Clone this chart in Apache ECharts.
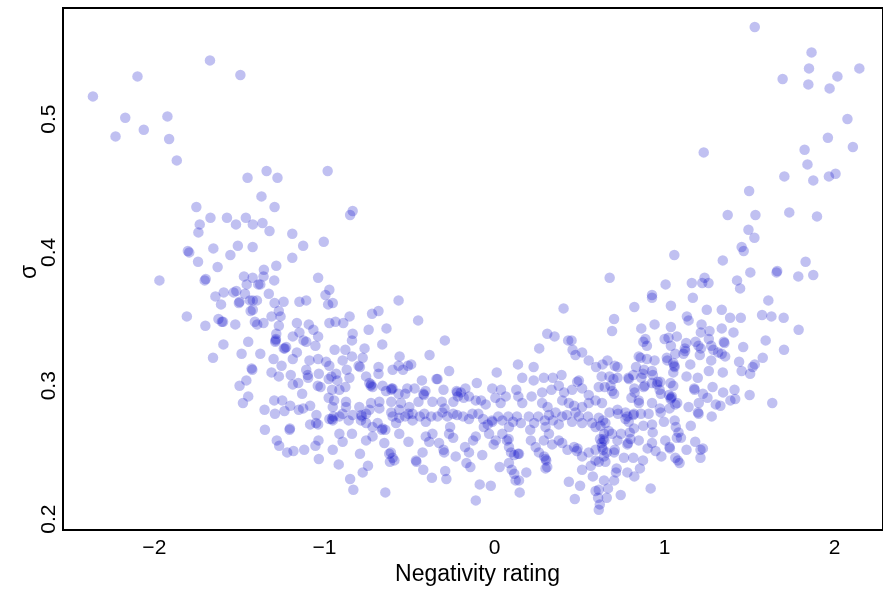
<!DOCTYPE html>
<html>
<head>
<meta charset="utf-8">
<script src="https://cdn.jsdelivr.net/npm/echarts@6/dist/echarts.min.js"></script>
<style>
  html, body { margin: 0; padding: 0; background: #fff; }
  #chart { width: 883px; height: 596px; }
</style>
</head>
<body>
<div id="chart"></div>
<script>
// Tick positions and labels
const xTicks = [-2, -1, 0, 1, 2];
const yTicks = [0.2, 0.3, 0.4, 0.5];
const xTitle = 'Negativity rating';
const yTitle = 'σ';

// [negativity rating, sigma] per item, grouped by region of the scatter
const upperLeft = [
  [-1.673,0.544],[-2.099,0.532],[-1.494,0.533],[-2.361,0.517],[-2.171,0.501],[-1.923,0.502],
  [-2.062,0.492],[-2.228,0.487],[-1.913,0.485],[-1.868,0.469],[-0.981,0.461],[-1.340,0.461],
  [-1.452,0.456],[-1.276,0.456],[-1.370,0.442],[-1.293,0.434],[-1.753,0.434],[-1.670,0.426],
  [-1.573,0.426],[-1.462,0.426],[-1.733,0.421],[-1.520,0.421],[-1.421,0.421],[-1.364,0.422],
  [-1.741,0.415],[-1.323,0.416],[-1.189,0.414],[-1.004,0.408],[-1.125,0.405],[-1.803,0.401],
  [-1.795,0.400],[-1.653,0.403],[-1.509,0.405],[-1.422,0.404],[-1.553,0.398],[-1.189,0.396],
  [-1.743,0.393],[-1.628,0.389],[-1.356,0.387],[-1.283,0.390],[-0.834,0.431],[-0.849,0.428]
];

const upperRight = [
  [1.530,0.569],[1.864,0.550],[1.849,0.538],[2.145,0.538],[1.694,0.530],[2.016,0.532],
  [1.845,0.526],[1.970,0.523],[2.075,0.500],[1.960,0.486],[2.107,0.479],[1.823,0.477],
  [1.230,0.475],[1.840,0.466],[1.704,0.457],[1.874,0.454],[1.966,0.457],[2.005,0.459],
  [1.497,0.446],[1.371,0.428],[1.534,0.428],[1.733,0.430],[1.896,0.427],[1.493,0.417],
  [1.528,0.411],[1.453,0.404],[1.465,0.401],[1.057,0.398],[1.342,0.394],[1.829,0.393],
  [1.658,0.385],[1.662,0.386],[1.504,0.385]
];

const leftBand = [
  [-1.970,0.379],[-1.704,0.379],[-1.698,0.380],[-1.473,0.382],[-1.422,0.381],[-1.358,0.382],
  [-1.295,0.379],[-1.457,0.376],[-1.389,0.376],[-1.377,0.376],[-1.037,0.381],[-1.592,0.370],
  [-1.534,0.370],[-1.518,0.371],[-1.467,0.369],[-1.641,0.367],[-1.608,0.361],[-1.327,0.369],
  [-1.503,0.362],[-1.499,0.363],[-1.438,0.364],[-1.421,0.364],[-1.397,0.364],[-1.434,0.356],
  [-1.421,0.357],[-1.293,0.362],[-1.240,0.363],[-1.147,0.363],[-1.107,0.364],[-0.994,0.368],
  [-0.978,0.361],[-1.311,0.352],[-1.268,0.356],[-1.258,0.352],[-1.809,0.352],[-1.700,0.345],
  [-1.623,0.350],[-1.596,0.348],[-1.603,0.348],[-1.524,0.346],[-1.409,0.348],[-1.395,0.346],
  [-1.358,0.347],[-1.268,0.345],[-1.162,0.347],[-1.092,0.346],[-1.065,0.342],[-1.283,0.339],
  [-1.287,0.334],[-1.285,0.335],[-1.289,0.333],[-1.239,0.328],[-1.232,0.328],[-1.225,0.329],
  [-1.186,0.337],[-1.147,0.340],[-1.123,0.334],[-1.107,0.333],[-1.037,0.337],[-1.053,0.330],
  [-1.448,0.333],[-1.594,0.331],[-1.655,0.321],[-1.487,0.324],[-1.377,0.324],[-1.299,0.320],
  [-1.186,0.320],[-1.162,0.325],[-1.088,0.319],[-1.037,0.320],[-0.990,0.318],[-1.424,0.312],
  [-1.428,0.313],[-1.499,0.300],[-1.459,0.304],[-1.311,0.310],[-1.268,0.307],[-1.252,0.315],
  [-1.198,0.308],[-1.186,0.301],[-1.154,0.302],[-1.131,0.294],[-1.107,0.312],[-1.098,0.308],
  [-1.096,0.306],[-1.033,0.309],[-1.039,0.300],[-1.023,0.299],[-0.975,0.305],[-0.959,0.307],
  [-1.448,0.292],[-1.479,0.287],[-1.352,0.282],[-1.295,0.289],[-1.248,0.289],[-1.291,0.279],
  [-1.235,0.281],[-1.201,0.285],[-1.151,0.282],[-1.125,0.283],[-1.084,0.285],[-1.047,0.278],
  [-0.975,0.291],[-1.084,0.271],[-1.049,0.272],[-1.037,0.271],[-1.350,0.267],[-1.205,0.267],
  [-1.203,0.268],[-1.280,0.259],[-1.266,0.255],[-1.219,0.250],[-1.182,0.251],[-1.119,0.252],
  [-1.053,0.255],[-1.035,0.259],[-1.033,0.245]
];

const centre = [
  [-0.971,0.372],[-0.951,0.362],[-0.971,0.347],[-0.935,0.348],[-0.889,0.347],[-0.564,0.364],
  [-0.720,0.354],[-0.682,0.356],[-0.852,0.352],[-0.449,0.349],[-0.635,0.343],[-0.740,0.342],
  [-0.834,0.339],[-0.838,0.334],[-0.660,0.331],[-0.292,0.334],[-0.940,0.327],[-0.877,0.327],
  [-0.764,0.328],[-0.838,0.322],[-0.775,0.321],[-0.382,0.323],[-0.893,0.319],[-0.971,0.315],
  [-0.799,0.315],[-0.791,0.314],[-0.682,0.314],[-0.682,0.309],[-0.558,0.322],[-0.564,0.315],
  [-0.538,0.312],[-0.509,0.315],[-0.490,0.316],[-0.599,0.312],[-0.267,0.311],[0.013,0.310],
  [-0.869,0.312],[-0.931,0.309],[-0.924,0.304],[-0.853,0.306],[-0.955,0.297],[-0.912,0.297],
  [-0.877,0.299],[-0.755,0.307],[-0.736,0.302],[-0.717,0.299],[-0.728,0.300],[-0.725,0.301],
  [-0.658,0.300],[-0.638,0.296],[-0.607,0.297],[-0.605,0.298],[-0.599,0.298],[-0.564,0.294],
  [-0.525,0.294],[-0.513,0.298],[-0.470,0.298],[-0.427,0.304],[-0.335,0.305],[-0.341,0.305],
  [-0.406,0.296],[-0.415,0.293],[-0.418,0.294],[-0.300,0.297],[-0.220,0.295],[-0.223,0.296],
  [-0.198,0.295],[-0.171,0.298],[-0.104,0.302],[-0.013,0.298],[0.038,0.297],[0.163,0.306],
  [0.230,0.304],[0.138,0.316],[0.230,0.314],[0.263,0.328],[0.310,0.339],[0.353,0.337],
  [0.406,0.358],[0.433,0.334],[0.453,0.334],[0.459,0.327],[0.476,0.323],[0.515,0.325],
  [0.554,0.319],[0.597,0.314],[0.664,0.319],[0.290,0.306],[0.343,0.306],[0.394,0.308],
  [0.218,0.292],[0.280,0.295],[0.335,0.297],[0.378,0.300],[0.128,0.297],[0.140,0.292],
  [0.163,0.287],[0.066,0.292],[0.036,0.287],[0.005,0.291],[-0.052,0.286],[-0.110,0.289],
  [-0.079,0.289],[-0.150,0.292],[-0.216,0.292],[-0.181,0.291],[-0.242,0.288],[-0.310,0.288],
  [-0.294,0.283],[-0.365,0.288],[-0.447,0.288],[-0.501,0.284],[-0.482,0.279],[-0.550,0.287],
  [-0.560,0.282],[-0.607,0.288],[-0.607,0.280],[-0.677,0.288],[-0.677,0.283],[-0.726,0.287],
  [-0.736,0.282],[-0.795,0.284],[-0.755,0.279],[-0.783,0.278],[-0.780,0.277],[-0.873,0.288],
  [-0.873,0.284],[-0.893,0.279],[-0.943,0.289],[-0.951,0.284],[-0.947,0.277],[-0.971,0.275],
  [-0.951,0.274],[-0.955,0.275],[-0.912,0.277],[-0.857,0.274],[-0.834,0.278],[-0.785,0.274],
  [-0.755,0.272],[-0.717,0.269],[-0.687,0.272],[-0.658,0.268],[-0.642,0.267],[-0.599,0.277],
  [-0.579,0.272],[-0.560,0.276],[-0.525,0.277],[-0.506,0.279],[-0.482,0.274],[-0.439,0.277],
  [-0.404,0.273],[-0.372,0.277],[-0.413,0.279],[-0.335,0.277],[-0.306,0.280],[-0.277,0.277],
  [-0.261,0.269],[-0.243,0.279],[-0.220,0.278],[-0.185,0.277],[-0.150,0.275],[-0.130,0.279],
  [-0.095,0.279],[-0.067,0.275],[-0.040,0.271],[-0.013,0.273],[-0.015,0.274],[0.022,0.277],
  [0.046,0.274],[0.081,0.277],[0.085,0.269],[0.109,0.273],[0.132,0.277],[0.155,0.272],
  [0.202,0.277],[0.210,0.267],[0.233,0.272],[0.257,0.277],[0.296,0.274],[0.320,0.278],
  [0.343,0.274],[0.378,0.271],[0.398,0.277],[0.425,0.278],[0.456,0.273],[0.476,0.280],
  [0.496,0.277],[0.515,0.272],[0.550,0.277],[0.574,0.272],[0.594,0.269],[0.280,0.287],
  [0.312,0.284],[0.359,0.280],[0.398,0.289],[0.437,0.287],[0.468,0.285],[0.515,0.284],
  [0.554,0.287],[0.594,0.289],[0.632,0.287],[0.409,0.295],[0.456,0.297],[0.515,0.298],
  [0.554,0.293],[0.496,0.304],[0.486,0.303],[0.300,0.269],[0.320,0.264],[0.290,0.259],
  [-0.912,0.264],[-0.893,0.258],[-0.951,0.252],[-0.838,0.264],[-0.755,0.259],[-0.791,0.249],
  [-0.717,0.262],[-0.662,0.267],[-0.648,0.257],[-0.609,0.250],[-0.599,0.246],[-0.615,0.243],
  [-0.560,0.264],[-0.506,0.258],[-0.462,0.244],[-0.423,0.250],[-0.404,0.262],[-0.365,0.264],
  [-0.384,0.258],[-0.326,0.257],[-0.296,0.250],[-0.300,0.252],[-0.267,0.264],[-0.243,0.261],
  [-0.228,0.247],[-0.173,0.254],[-0.150,0.250],[-0.165,0.242],[-0.142,0.239],[-0.126,0.259],
  [-0.110,0.262],[-0.072,0.248],[-0.063,0.269],[-0.032,0.264],[0.007,0.259],[-0.005,0.256],
  [0.046,0.264],[0.073,0.259],[0.083,0.260],[0.085,0.254],[0.097,0.250],[0.116,0.248],
  [0.144,0.249],[0.138,0.249],[0.030,0.239],[0.085,0.242],[0.101,0.237],[0.116,0.234],
  [0.144,0.229],[0.124,0.229],[0.148,0.220],[0.187,0.235],[0.214,0.259],[0.242,0.254],
  [0.261,0.250],[0.292,0.247],[0.300,0.245],[0.304,0.244],[0.310,0.239],[0.300,0.238],
  [0.339,0.256],[0.378,0.259],[0.398,0.257],[0.429,0.252],[0.468,0.254],[0.488,0.253],
  [0.484,0.251],[0.515,0.247],[0.554,0.250],[0.594,0.252],[0.632,0.254],[0.515,0.237],
  [0.566,0.240],[0.594,0.244],[0.437,0.228],[0.503,0.225],[0.578,0.232],[0.472,0.215],
  [0.594,0.221],[0.609,0.216],[-0.849,0.230],[-0.830,0.222],[-0.916,0.241],[-0.775,0.235],
  [-0.744,0.240],[-0.642,0.220],[-0.619,0.249],[-0.589,0.244],[-0.459,0.243],[-0.419,0.237],
  [-0.368,0.231],[-0.290,0.236],[-0.283,0.230],[-0.110,0.214],[-0.087,0.226],[-0.022,0.225]
];

const rightBand = [
  [0.677,0.381],[1.786,0.382],[1.874,0.383],[1.006,0.376],[1.160,0.377],[1.235,0.381],
  [1.221,0.377],[1.258,0.377],[1.426,0.379],[1.444,0.373],[0.926,0.368],[0.926,0.366],
  [0.822,0.359],[1.037,0.360],[1.166,0.366],[1.610,0.364],[1.248,0.357],[1.336,0.357],
  [0.703,0.350],[1.131,0.352],[1.141,0.349],[1.385,0.351],[1.448,0.351],[1.573,0.353],
  [1.628,0.352],[1.700,0.351],[0.691,0.341],[0.863,0.343],[0.941,0.346],[1.037,0.344],
  [1.217,0.346],[1.336,0.343],[1.405,0.340],[1.788,0.342],[1.264,0.341],[1.213,0.340],
  [0.887,0.335],[0.875,0.333],[0.896,0.330],[1.000,0.335],[1.023,0.336],[1.072,0.337],
  [1.037,0.330],[1.127,0.332],[1.119,0.328],[1.182,0.333],[1.199,0.330],[1.213,0.328],
  [1.260,0.335],[1.274,0.330],[1.286,0.327],[1.348,0.333],[1.352,0.332],[1.315,0.325],
  [1.336,0.324],[1.462,0.329],[1.594,0.334],[1.702,0.327],[0.848,0.322],[0.859,0.321],
  [0.896,0.320],[0.941,0.319],[1.013,0.321],[1.016,0.319],[1.063,0.324],[1.121,0.326],
  [1.111,0.324],[1.207,0.323],[1.274,0.319],[1.356,0.322],[1.438,0.318],[1.577,0.321],
  [1.530,0.316],[1.518,0.314],[0.635,0.316],[0.707,0.315],[0.723,0.314],[0.832,0.314],
  [0.879,0.312],[0.873,0.309],[0.926,0.311],[0.931,0.308],[1.051,0.317],[1.059,0.314],
  [1.057,0.315],[1.051,0.310],[1.151,0.316],[1.260,0.311],[1.342,0.310],[1.453,0.311],
  [1.503,0.309],[1.195,0.306],[1.129,0.307],[0.630,0.307],[0.676,0.307],[0.699,0.305],
  [0.723,0.306],[0.787,0.306],[0.790,0.305],[0.816,0.308],[0.863,0.306],[0.883,0.300],
  [0.877,0.299],[0.926,0.302],[0.959,0.303],[0.975,0.303],[0.955,0.301],[1.035,0.302],
  [1.051,0.300],[0.613,0.299],[0.648,0.299],[0.682,0.300],[0.691,0.296],[0.703,0.294],
  [0.822,0.298],[0.824,0.295],[0.971,0.297],[0.978,0.294],[1.174,0.298],[1.176,0.297],
  [1.282,0.299],[1.344,0.295],[1.411,0.297],[1.500,0.293],[0.805,0.291],[0.848,0.289],
  [0.849,0.287],[0.926,0.287],[1.025,0.293],[1.043,0.292],[1.038,0.291],[1.035,0.290],
  [1.074,0.287],[1.063,0.286],[1.225,0.294],[1.252,0.291],[1.201,0.287],[1.301,0.286],
  [1.328,0.285],[1.387,0.289],[1.415,0.290],[1.633,0.287],[0.972,0.283],[0.977,0.280],
  [0.906,0.279],[0.861,0.279],[0.820,0.279],[0.816,0.278],[0.770,0.280],[0.781,0.277],
  [0.723,0.282],[0.726,0.279],[0.676,0.280],[1.029,0.283],[1.141,0.284],[1.196,0.280],
  [1.200,0.279],[1.277,0.277],[0.613,0.276],[0.638,0.274],[0.652,0.272],[0.623,0.270],
  [0.770,0.275],[0.789,0.273],[0.820,0.268],[0.875,0.270],[0.926,0.271],[0.930,0.265],
  [0.996,0.273],[1.059,0.274],[1.066,0.269],[1.154,0.270],[0.644,0.264],[0.672,0.266],
  [0.691,0.264],[0.646,0.259],[0.640,0.260],[0.620,0.260],[0.629,0.257],[0.744,0.264],
  [0.795,0.265],[0.799,0.260],[0.848,0.259],[1.082,0.265],[1.096,0.261],[1.072,0.261],
  [0.723,0.259],[0.785,0.257],[0.781,0.256],[0.703,0.250],[0.707,0.252],[0.638,0.252],
  [0.660,0.250],[0.644,0.247],[0.652,0.243],[0.613,0.243],[0.761,0.246],[0.816,0.246],
  [0.873,0.244],[0.926,0.257],[0.900,0.253],[0.947,0.251],[0.981,0.247],[1.004,0.259],
  [1.029,0.254],[1.031,0.253],[1.129,0.252],[1.180,0.258],[1.211,0.252],[1.225,0.253],
  [1.211,0.246],[1.063,0.246],[1.078,0.244],[1.088,0.242],[0.718,0.238],[0.714,0.235],
  [0.781,0.235],[0.822,0.232],[0.855,0.238],[0.644,0.229],[0.703,0.229],[0.613,0.222],
  [0.667,0.223],[0.918,0.223],[0.742,0.218],[0.660,0.216],[0.619,0.211],[0.613,0.207]
];

const points = [].concat(upperLeft, upperRight, leftBand, centre, rightBand);

const chart = echarts.init(document.getElementById('chart'), null, { renderer: 'canvas' });

const fontFamily = '"Liberation Sans", Arial, Helvetica, sans-serif';
const minusSign = v => (v < 0 ? '\u2212' + Math.abs(v) : String(v));

chart.setOption({
  animation: false,
  backgroundColor: '#ffffff',
  grid: {
    left: 63, top: 8, right: -2, bottom: 66,
    show: true, borderColor: '#000', borderWidth: 2, backgroundColor: 'transparent'
  },
  xAxis: {
    type: 'value',
    min: -2.537, max: 2.284,
    name: xTitle,
    nameLocation: 'middle',
    nameGap: 33,
    nameMoveOverlap: false,
    nameTextStyle: { fontFamily, fontSize: 23, color: '#000', padding: [0, 0, 0, 9] },
    axisLine: { show: true, onZero: false, lineStyle: { color: '#000', width: 2 } },
    axisTick: { show: false },
    splitLine: { show: false },
    axisLabel: {
      customValues: xTicks,
      formatter: minusSign,
      fontFamily, fontSize: 21, color: '#000', margin: 8
    }
  },
  yAxis: {
    type: 'value',
    min: 0.1918, max: 0.5833,
    name: yTitle,
    nameLocation: 'middle',
    nameGap: 22,
    nameMoveOverlap: false,
    nameTextStyle: { fontFamily, fontSize: 23, color: '#000', padding: [0, 6, 0, 0] },
    axisLine: { show: true, onZero: false, lineStyle: { color: '#000', width: 2 } },
    axisTick: { show: false },
    splitLine: { show: false },
    axisLabel: {
      customValues: yTicks,
      formatter: v => v.toFixed(1),
      rotate: 90,
      fontFamily, fontSize: 21, color: '#000', margin: 3
    }
  },
  series: [{
    type: 'scatter',
    data: points,
    symbol: 'circle',
    symbolSize: 10.5,
    itemStyle: { color: 'rgba(0,0,200,0.31)' },
    silent: true
  }]
});
</script>
</body>
</html>
